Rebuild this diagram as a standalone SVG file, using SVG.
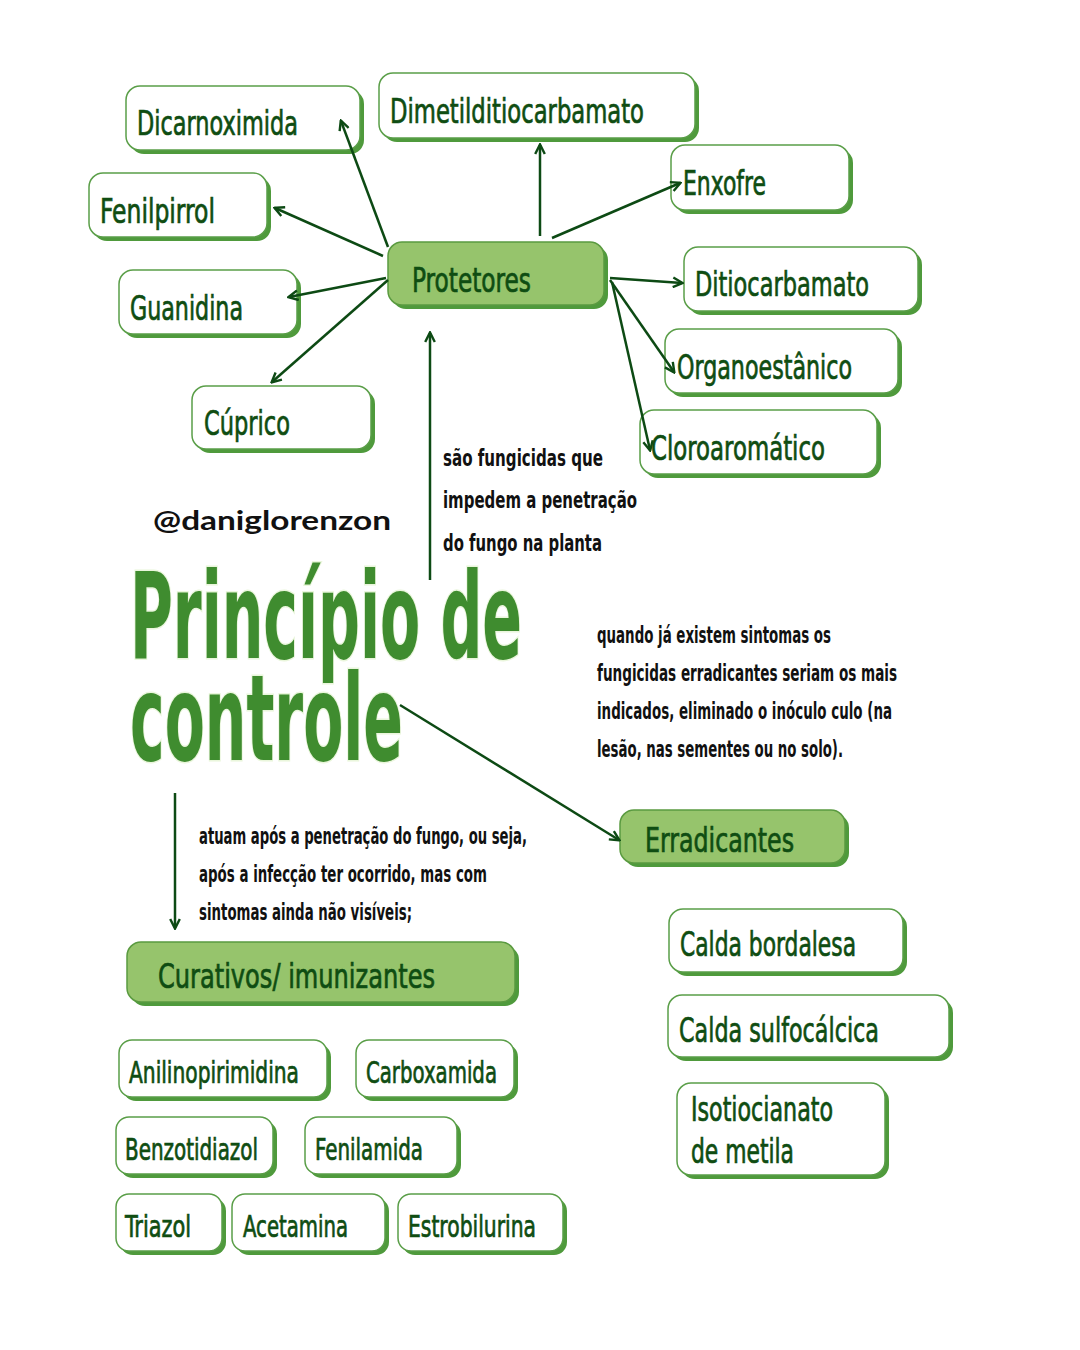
<svg xmlns="http://www.w3.org/2000/svg" width="1080" height="1350" viewBox="0 0 1080 1350">
<defs>
<style>
.sh{fill:#4f9a3c}
.bw{fill:#ffffff;stroke:#5a9e48;stroke-width:1.5}
.bg{fill:#96c46c;stroke:#5a9a40;stroke-width:1.5}
.nt{font-family:"Liberation Sans Narrow","DejaVu Sans Condensed","Roboto Condensed","Liberation Sans",sans-serif;font-stretch:condensed;fill:#0f4d12;stroke:#0f4d12;stroke-width:0.7;font-size:34px}
.st{font-size:30px}
.ds{font-family:"Liberation Sans Narrow","DejaVu Sans Condensed","Roboto Condensed","Liberation Sans",sans-serif;font-stretch:condensed;font-weight:bold;fill:#111;font-size:23px}
.ti{font-family:"Liberation Sans Narrow","DejaVu Sans Condensed","Roboto Condensed","Liberation Sans",sans-serif;font-stretch:condensed;font-weight:bold;fill:#3f8c2f;font-size:120px;stroke:#eaf6dc;stroke-width:3;paint-order:stroke}
.hd{font-family:"Lato","Open Sans","Liberation Sans",sans-serif;font-weight:bold;fill:#111;font-size:27px}
.cn{stroke:#0d4a14;stroke-width:2.5;fill:none;marker-end:url(#ah)}
</style>
<marker id="ah" viewBox="0 0 10 10" refX="8.5" refY="5" markerWidth="12" markerHeight="12" markerUnits="userSpaceOnUse" orient="auto">
<path d="M1,1 L9,5 L1,9" fill="none" stroke="#0d4a14" stroke-width="2"/>
</marker>
</defs>
<rect width="1080" height="1350" fill="#ffffff"/>

<g id="dicarnoximida"><rect class="sh" x="130" y="90" width="234" height="64" rx="14"/><rect class="bw" x="126" y="86" width="234" height="64" rx="14"/><text class="nt" x="137" y="135" textLength="161" lengthAdjust="spacingAndGlyphs">Dicarnoximida</text></g>
<g id="dimetilditiocarbamato"><rect class="sh" x="383" y="77" width="316" height="65" rx="14"/><rect class="bw" x="379" y="73" width="316" height="65" rx="14"/><text class="nt" x="390" y="123" textLength="254" lengthAdjust="spacingAndGlyphs">Dimetilditiocarbamato</text></g>
<g id="enxofre"><rect class="sh" x="675" y="149" width="178" height="65" rx="14"/><rect class="bw" x="671" y="145" width="178" height="65" rx="14"/><text class="nt" x="683" y="195" textLength="83" lengthAdjust="spacingAndGlyphs">Enxofre</text></g>
<g id="fenilpirrol"><rect class="sh" x="93" y="177" width="178" height="64" rx="14"/><rect class="bw" x="89" y="173" width="178" height="64" rx="14"/><text class="nt" x="100" y="223" textLength="115" lengthAdjust="spacingAndGlyphs">Fenilpirrol</text></g>
<g id="protetores"><rect class="sh" x="392" y="246" width="216" height="63" rx="14"/><rect class="bg" x="388" y="242" width="216" height="63" rx="14"/><text class="nt" x="412" y="292" textLength="119" lengthAdjust="spacingAndGlyphs">Protetores</text></g>
<g id="ditiocarbamato"><rect class="sh" x="688" y="251" width="234" height="64" rx="14"/><rect class="bw" x="684" y="247" width="234" height="64" rx="14"/><text class="nt" x="695" y="296" textLength="174" lengthAdjust="spacingAndGlyphs">Ditiocarbamato</text></g>
<g id="guanidina"><rect class="sh" x="123" y="274" width="178" height="64" rx="14"/><rect class="bw" x="119" y="270" width="178" height="64" rx="14"/><text class="nt" x="130" y="320" textLength="113" lengthAdjust="spacingAndGlyphs">Guanidina</text></g>
<g id="organoestanico"><rect class="sh" x="669" y="333" width="233" height="64" rx="14"/><rect class="bw" x="665" y="329" width="233" height="64" rx="14"/><text class="nt" x="677" y="379" textLength="175" lengthAdjust="spacingAndGlyphs">Organoestânico</text></g>
<g id="cuprico"><rect class="sh" x="196" y="390" width="179" height="63" rx="14"/><rect class="bw" x="192" y="386" width="179" height="63" rx="14"/><text class="nt" x="204" y="435" textLength="86" lengthAdjust="spacingAndGlyphs">Cúprico</text></g>
<g id="cloroaromatico"><rect class="sh" x="644" y="414" width="237" height="64" rx="14"/><rect class="bw" x="640" y="410" width="237" height="64" rx="14"/><text class="nt" x="651" y="460" textLength="174" lengthAdjust="spacingAndGlyphs">Cloroaromático</text></g>

<g id="handle"><text class="hd" x="153" y="530" textLength="238" lengthAdjust="spacingAndGlyphs">@daniglorenzon</text></g>

<g id="desc-protetores">
<text class="ds" x="443" y="466" textLength="160" lengthAdjust="spacingAndGlyphs">são fungicidas que</text>
<text class="ds" x="443" y="508" textLength="194" lengthAdjust="spacingAndGlyphs">impedem a penetração</text>
<text class="ds" x="443" y="551" textLength="159" lengthAdjust="spacingAndGlyphs">do fungo na planta</text>
</g>

<g id="title">
<text class="ti" x="130" y="658" textLength="392" lengthAdjust="spacingAndGlyphs">Princípio de</text>
<text class="ti" x="130" y="760" textLength="273" lengthAdjust="spacingAndGlyphs">controle</text>
</g>

<g id="desc-erradicantes">
<text class="ds" x="597" y="643" textLength="234" lengthAdjust="spacingAndGlyphs">quando já existem sintomas os</text>
<text class="ds" x="597" y="681" textLength="300" lengthAdjust="spacingAndGlyphs">fungicidas erradicantes seriam os mais</text>
<text class="ds" x="597" y="719" textLength="295" lengthAdjust="spacingAndGlyphs">indicados, eliminado o inóculo culo (na</text>
<text class="ds" x="597" y="757" textLength="246" lengthAdjust="spacingAndGlyphs">lesão, nas sementes ou no solo).</text>
</g>

<g id="erradicantes"><rect class="sh" x="624" y="814" width="225" height="53" rx="14"/><rect class="bg" x="620" y="810" width="225" height="53" rx="14"/><text class="nt" x="645" y="852" textLength="149" lengthAdjust="spacingAndGlyphs">Erradicantes</text></g>

<g id="desc-curativos">
<text class="ds" x="199" y="844" textLength="328" lengthAdjust="spacingAndGlyphs">atuam após a penetração do fungo, ou seja,</text>
<text class="ds" x="199" y="882" textLength="288" lengthAdjust="spacingAndGlyphs">após a infecção ter ocorrido, mas com</text>
<text class="ds" x="199" y="920" textLength="213" lengthAdjust="spacingAndGlyphs">sintomas ainda não visíveis;</text>
</g>

<g id="curativos"><rect class="sh" x="131" y="946" width="388" height="60" rx="14"/><rect class="bg" x="127" y="942" width="388" height="60" rx="14"/><text class="nt" x="158" y="988" textLength="277" lengthAdjust="spacingAndGlyphs">Curativos/ imunizantes</text></g>

<g id="calda-bordalesa"><rect class="sh" x="673" y="913" width="234" height="63" rx="14"/><rect class="bw" x="669" y="909" width="234" height="63" rx="14"/><text class="nt" x="680" y="956" textLength="176" lengthAdjust="spacingAndGlyphs">Calda bordalesa</text></g>
<g id="calda-sulfocalcica"><rect class="sh" x="672" y="999" width="281" height="62" rx="14"/><rect class="bw" x="668" y="995" width="281" height="62" rx="14"/><text class="nt" x="679" y="1042" textLength="200" lengthAdjust="spacingAndGlyphs">Calda sulfocálcica</text></g>
<g id="isotiocianato"><rect class="sh" x="681" y="1087" width="208" height="92" rx="14"/><rect class="bw" x="677" y="1083" width="208" height="92" rx="14"/><text class="nt" x="691" y="1121" textLength="142" lengthAdjust="spacingAndGlyphs">Isotiocianato</text><text class="nt" x="691" y="1163" textLength="103" lengthAdjust="spacingAndGlyphs">de metila</text></g>

<g id="anilinopirimidina"><rect class="sh" x="123" y="1044" width="208" height="57" rx="13"/><rect class="bw" x="119" y="1040" width="208" height="57" rx="13"/><text class="nt st" x="129" y="1083" textLength="170" lengthAdjust="spacingAndGlyphs">Anilinopirimidina</text></g>
<g id="carboxamida"><rect class="sh" x="360" y="1044" width="158" height="57" rx="13"/><rect class="bw" x="356" y="1040" width="158" height="57" rx="13"/><text class="nt st" x="366" y="1083" textLength="131" lengthAdjust="spacingAndGlyphs">Carboxamida</text></g>
<g id="benzotidiazol"><rect class="sh" x="120" y="1121" width="157" height="57" rx="13"/><rect class="bw" x="116" y="1117" width="157" height="57" rx="13"/><text class="nt st" x="125" y="1160" textLength="133" lengthAdjust="spacingAndGlyphs">Benzotidiazol</text></g>
<g id="fenilamida"><rect class="sh" x="309" y="1121" width="152" height="57" rx="13"/><rect class="bw" x="305" y="1117" width="152" height="57" rx="13"/><text class="nt st" x="315" y="1160" textLength="108" lengthAdjust="spacingAndGlyphs">Fenilamida</text></g>
<g id="triazol"><rect class="sh" x="120" y="1198" width="106" height="57" rx="13"/><rect class="bw" x="116" y="1194" width="106" height="57" rx="13"/><text class="nt st" x="125" y="1237" textLength="66" lengthAdjust="spacingAndGlyphs">Triazol</text></g>
<g id="acetamina"><rect class="sh" x="236" y="1198" width="153" height="57" rx="13"/><rect class="bw" x="232" y="1194" width="153" height="57" rx="13"/><text class="nt st" x="243" y="1237" textLength="105" lengthAdjust="spacingAndGlyphs">Acetamina</text></g>
<g id="estrobilurina"><rect class="sh" x="402" y="1198" width="165" height="57" rx="13"/><rect class="bw" x="398" y="1194" width="165" height="57" rx="13"/><text class="nt st" x="408" y="1237" textLength="128" lengthAdjust="spacingAndGlyphs">Estrobilurina</text></g>

<g id="connectors">
<line class="cn" x1="388" y1="247" x2="341" y2="121"/>
<line class="cn" x1="540" y1="236" x2="540" y2="145"/>
<line class="cn" x1="552" y1="238" x2="680" y2="183"/>
<line class="cn" x1="383" y1="256" x2="275" y2="208"/>
<line class="cn" x1="386" y1="278" x2="289" y2="297"/>
<line class="cn" x1="388" y1="280" x2="272" y2="382"/>
<line class="cn" x1="610" y1="278" x2="682" y2="283"/>
<line class="cn" x1="610" y1="280" x2="674" y2="372"/>
<line class="cn" x1="612" y1="282" x2="650" y2="450"/>
<line class="cn" x1="430" y1="580" x2="430" y2="333"/>
<line class="cn" x1="400" y1="705" x2="619" y2="840"/>
<line class="cn" x1="175" y1="793" x2="175" y2="928"/>
</g>
</svg>
